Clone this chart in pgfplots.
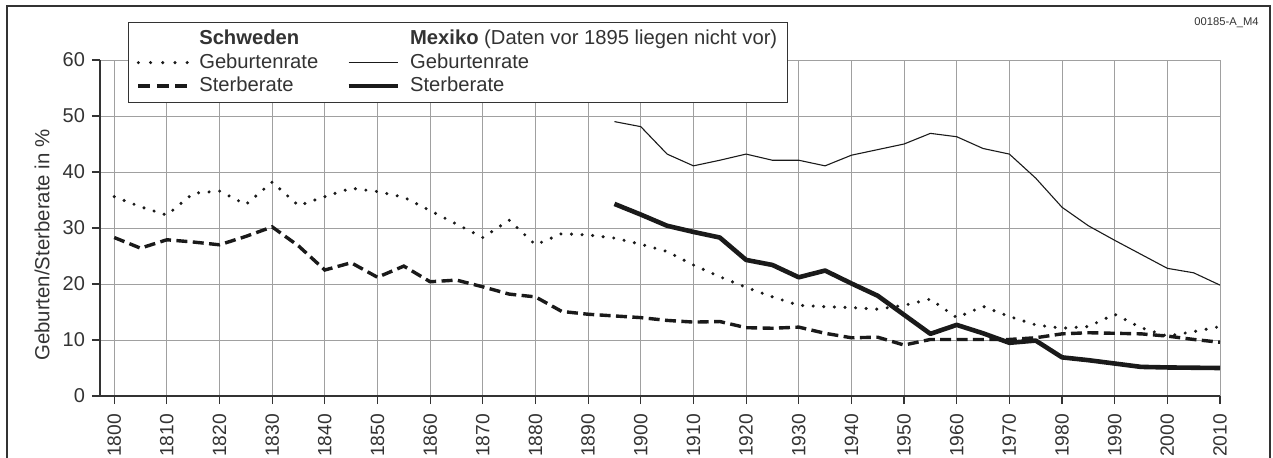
\documentclass[border=0pt]{standalone}
\usepackage{fontspec}
\setmainfont{Liberation Sans}
\usepackage{pgfplots}
\pgfplotsset{compat=1.18}
\definecolor{ink}{HTML}{1A1A1A}
\definecolor{gridc}{HTML}{A0A0A0}
\definecolor{axc}{HTML}{333333}
\begin{document}
\begin{tikzpicture}
\begin{axis}[
  at={(0pt,0pt)}, anchor=south west,
  scale only axis, width=560pt, height=168pt,
  xmin=1797.3, xmax=2010, ymin=0, ymax=60,
  axis lines*=left,
  axis line style={line width=0.8pt, color=axc},
  xtick={1800,1810,...,2010},
  ytick={0,10,...,60},
  grid=major,
  major grid style={gridc, line width=0.5pt},
  tick style={axc, line width=0.6pt},
  tick align=outside, major tick length=4pt,
  /pgf/number format/assume math mode=true,
  /pgf/number format/1000 sep={},
  xticklabel shift=1.5pt,
  x tick label style={rotate=90, anchor=east, font=\fontsize{9.6}{11}\selectfont, text=axc},
  y tick label style={font=\fontsize{10}{12}\selectfont, text=axc},
  ylabel={Geburten/Sterberate in \%},
  ylabel style={at={(axis description cs:-0.0518,0.449)}, anchor=center, rotate=0, font=\fontsize{10.2}{12}\selectfont, text=axc},
  clip=false,
  legend columns=2,
  legend cell align=left,
  legend style={at={(axis description cs:0.025,1.1131)}, anchor=north west,
    draw=axc, line width=0.7pt, fill=white, inner xsep=4pt, inner ysep=2.6pt,
    font=\fontsize{10.1}{12}\selectfont, text=axc,
    row sep=0.1pt,
    nodes={inner sep=1pt, text height=7.5pt, text depth=2pt},
    /tikz/every odd column/.append style={column sep=4pt},
    /tikz/every even column/.append style={column sep=13pt}},
  legend image code/.code={\draw[#1] (0pt,0pt) -- (24.6pt,0pt);},
]
% Schweden Geburtenrate
\addplot[forget plot, ink, line width=1.7pt, line cap=round, dash pattern=on 0pt off 5.3pt] coordinates {
(1800,35.6)(1805,33.8)(1810,32.3)(1815,36.2)(1820,36.6)(1825,34.2)(1830,38.2)(1835,34.0)(1840,35.6)(1845,37.1)(1850,36.5)(1855,35.5)(1860,33.1)(1865,30.7)(1870,28.3)(1875,31.4)(1880,27.0)(1885,29.0)(1890,28.75)(1895,28.2)(1900,27.1)(1905,25.8)(1910,23.4)(1915,21.3)(1920,19.4)(1925,17.7)(1930,16.2)(1935,15.95)(1940,15.8)(1945,15.5)(1950,16.2)(1955,17.3)(1960,14.0)(1965,16.0)(1970,14.2)(1975,12.7)(1980,12.1)(1985,12.4)(1990,14.6)(1995,12.2)(2000,10.7)(2005,11.5)(2010,12.4)
};
% Schweden Sterberate
\addplot[forget plot, ink, line width=1.7pt, dash pattern=on 5.5pt off 2.7pt] coordinates {
(1800,28.3)(1805,26.4)(1810,27.9)(1815,27.5)(1820,27.0)(1825,28.5)(1830,30.2)(1835,26.8)(1840,22.5)(1845,23.8)(1850,21.2)(1855,23.2)(1860,20.4)(1865,20.7)(1870,19.5)(1875,18.2)(1880,17.7)(1885,15.1)(1890,14.6)(1895,14.3)(1900,14.0)(1905,13.5)(1910,13.2)(1915,13.3)(1920,12.2)(1925,12.1)(1930,12.3)(1935,11.2)(1940,10.4)(1945,10.5)(1950,9.1)(1955,10.1)(1960,10.1)(1965,10.1)(1970,10.1)(1975,10.4)(1980,11.1)(1985,11.3)(1990,11.2)(1995,11.1)(2000,10.7)(2005,10.1)(2010,9.6)
};
% Mexiko Geburtenrate
\addplot[forget plot, ink, line width=0.55pt, line join=round] coordinates {
(1895,49.0)(1900,48.1)(1905,43.2)(1910,41.1)(1915,42.1)(1920,43.2)(1925,42.1)(1930,42.1)(1935,41.1)(1940,43.0)(1945,44.0)(1950,45.0)(1955,46.9)(1960,46.3)(1965,44.2)(1970,43.2)(1975,38.9)(1980,33.7)(1985,30.4)(1990,27.8)(1995,25.3)(2000,22.8)(2005,22.0)(2010,19.8)
};
% Mexiko Sterberate
\addplot[forget plot, ink, line width=2.3pt, line join=round] coordinates {
(1895,34.3)(1900,32.4)(1905,30.4)(1910,29.3)(1915,28.3)(1920,24.3)(1925,23.4)(1930,21.2)(1935,22.4)(1940,20.1)(1945,17.9)(1950,14.5)(1955,11.1)(1960,12.7)(1965,11.2)(1970,9.5)(1975,9.9)(1980,6.9)(1985,6.4)(1990,5.8)(1995,5.2)(2000,5.1)(2005,5.05)(2010,5.0)
};
\addlegendimage{empty legend}\addlegendentry{\textbf{Schweden}}
\addlegendimage{empty legend}\addlegendentry{\textbf{Mexiko} (Daten vor 1895 liegen nicht vor)}
\addlegendimage{ink, line width=1.7pt, line cap=round, dash pattern=on 0pt off 6.1pt}\addlegendentry{Geburtenrate}
\addlegendimage{ink, line width=0.55pt}\addlegendentry{Geburtenrate}
\addlegendimage{ink, line width=1.7pt, dash pattern=on 6pt off 3.25pt}\addlegendentry{Sterberate}
\addlegendimage{ink, line width=2.3pt}\addlegendentry{Sterberate}
\end{axis}
\draw[axc, line width=0.8pt] (-46.5pt,-31pt) -- (-46.5pt,195pt) -- (585pt,195pt) -- (585pt,-31pt);
\node[anchor=east, inner sep=0pt, font=\fontsize{5.6}{6}\selectfont, text=axc] at (579.5pt,186.6pt) {00185-A\_M4};
\pgfresetboundingbox
\useasboundingbox (-50pt,-30.5pt) rectangle (586.5pt,198pt);
\end{tikzpicture}
\end{document}
